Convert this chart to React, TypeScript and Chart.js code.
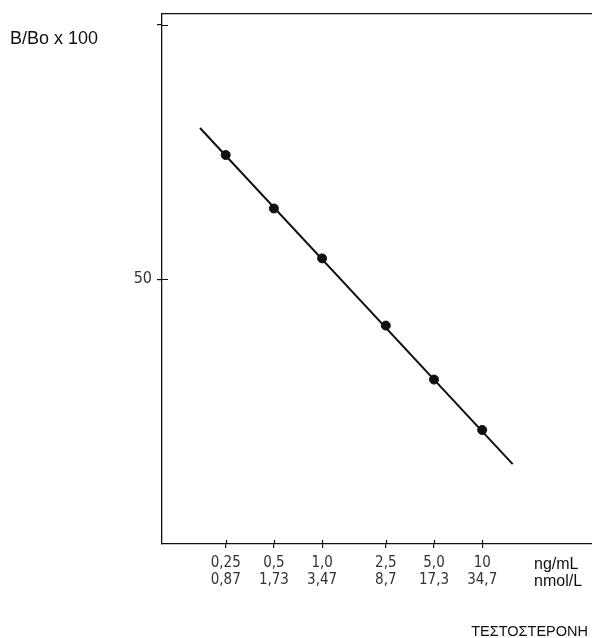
import React, { useEffect, useRef } from "react";
import { Chart, registerables } from "chart.js";

Chart.register(...registerables);

// Data
const concNgMl = [0.25, 0.5, 1.0, 2.5, 5.0, 10];
const bBo = [74.4, 63.9, 54.1, 40.9, 30.3, 20.4];
const fitX = [0.1727, 15.5];
const fitY = [79.7, 13.7];
const ngLabels = ["0,25", "0,5", "1,0", "2,5", "5,0", "10"];
const nmolLabels = ["0,87", "1,73", "3,47", "8,7", "17,3", "34,7"];
const yTicks = [50, 100];
const yTickLabels = ["50", ""];

const tickFont = "'DejaVu Sans Condensed', 'Liberation Sans Narrow', sans-serif";
const textFont = "'Liberation Sans', Arial, sans-serif";

const innerTicks = {
  id: "innerTicks",
  afterDraw(chart: any) {
    const { ctx, chartArea, scales } = chart;
    ctx.save();
    ctx.strokeStyle = "#111";
    ctx.lineWidth = 1.2;
    ctx.beginPath();
    scales.x.ticks.forEach((t: any) => {
      const px = Math.round(scales.x.getPixelForValue(t.value)) + 0.5;
      ctx.moveTo(px, chartArea.bottom);
      ctx.lineTo(px, chartArea.bottom - 4);
    });
    scales.y.ticks.forEach((t: any) => {
      const py = Math.round(scales.y.getPixelForValue(t.value)) + 0.5;
      ctx.moveTo(chartArea.left, py);
      ctx.lineTo(chartArea.left + 6, py);
    });
    ctx.stroke();
    ctx.restore();
  },
};

const noPad = (s: any) => {
  s.paddingLeft = 0;
  s.paddingRight = 0;
  s.paddingTop = 0;
  s.paddingBottom = 0;
};

export default function App() {
  const ref = useRef<HTMLCanvasElement>(null);
  useEffect(() => {
    document.body.style.margin = "0";
    const chart = new Chart(ref.current!, {
      type: "scatter",
      data: {
        datasets: [
          {
            data: fitX.map((x, i) => ({ x, y: fitY[i] })),
            showLine: true,
            borderColor: "#111",
            borderWidth: 2,
            pointRadius: 0,
          },
          {
            data: concNgMl.map((x, i) => ({ x, y: bBo[i] })),
            backgroundColor: "#111",
            borderColor: "#111",
            pointRadius: 4.5,
            showLine: false,
          },
        ],
      },
      options: {
        animation: false,
        responsive: false,
        layout: { padding: 0, autoPadding: false },
        plugins: { legend: { display: false }, tooltip: { enabled: false } },
        scales: {
          x: {
            type: "logarithmic",
            position: "bottom",
            min: 0.1,
            max: 48.5,
            afterBuildTicks: (s: any) => {
              s.ticks = concNgMl.map((v) => ({ value: v }));
            },
            afterFit: (s: any) => {
              s.height = 94;
              noPad(s);
            },
            ticks: {
              autoSkip: false,
              maxRotation: 0,
              padding: 7,
              color: "#333",
              font: { family: tickFont, size: 15, lineHeight: 1.13 },
              callback: (v: any) => {
                const i = concNgMl.indexOf(Number(v));
                return i >= 0 ? [ngLabels[i], nmolLabels[i]] : "";
              },
            },
            grid: { drawOnChartArea: false, tickLength: 4, color: "#111", lineWidth: 1.2 },
            border: { display: true, color: "#111", width: 1.3 },
          },
          x2: {
            type: "linear",
            position: "top",
            min: 0,
            max: 1,
            ticks: { display: false },
            grid: { drawOnChartArea: false, drawTicks: false },
            border: { display: true, color: "#111", width: 1.3 },
            afterFit: (s: any) => {
              s.height = 14;
              noPad(s);
            },
          },
          y: {
            type: "linear",
            position: "left",
            min: -2,
            max: 102.1,
            afterBuildTicks: (s: any) => {
              s.ticks = yTicks.map((v) => ({ value: v }));
            },
            afterFit: (s: any) => {
              s.width = 162;
              noPad(s);
            },
            ticks: {
              padding: 5,
              color: "#333",
              font: { family: tickFont, size: 16 },
              callback: (v: any) => {
                const i = yTicks.indexOf(Number(v));
                return i >= 0 ? yTickLabels[i] : "";
              },
            },
            grid: { drawOnChartArea: false, tickLength: 5, color: "#111", lineWidth: 1.2 },
            border: { display: true, color: "#111", width: 1.3 },
          },
        },
      },
      plugins: [innerTicks],
    } as any);
    return () => chart.destroy();
  }, []);

  const txt: React.CSSProperties = {
    position: "absolute",
    fontFamily: textFont,
    color: "#111",
    lineHeight: 1,
    whiteSpace: "nowrap",
  };

  return (
    <div style={{ position: "relative", width: 592, height: 638 }}>
      <canvas ref={ref} width={592} height={638} style={{ display: "block" }} />
      <div style={{ ...txt, left: 10, top: 29, fontSize: 18 }}>B/Bo x 100</div>
      <div style={{ ...txt, left: 534, top: 556, fontSize: 16 }}>ng/mL</div>
      <div style={{ ...txt, left: 534, top: 573, fontSize: 16 }}>nmol/L</div>
      <div style={{ ...txt, right: 4, top: 624, fontSize: 14.5 }}>ΤΕΣΤΟΣΤΕΡΟΝΗ</div>
    </div>
  );
}
